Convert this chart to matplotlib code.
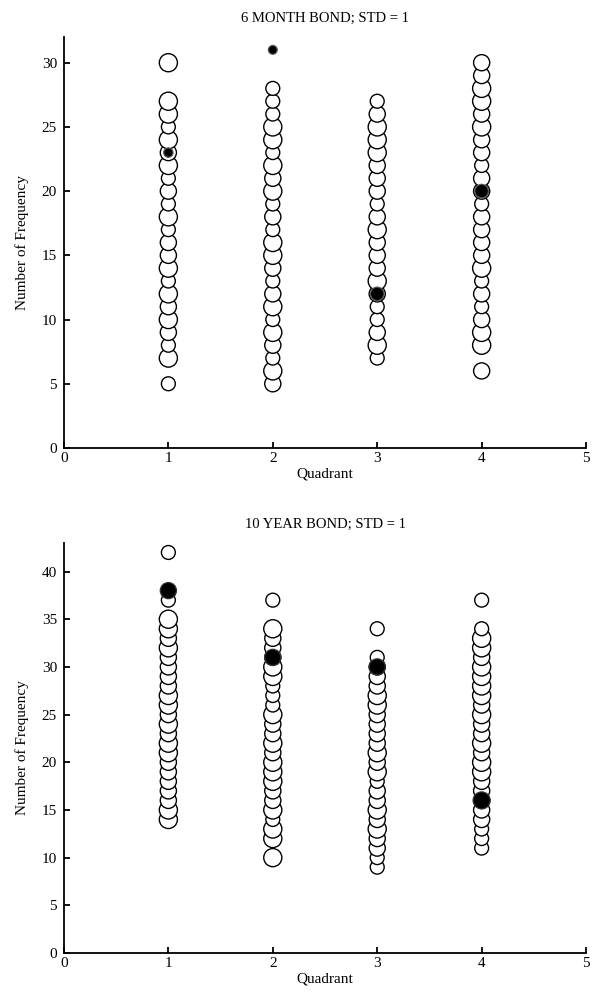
import numpy as np
import matplotlib
matplotlib.use('Agg')
import matplotlib.pyplot as plt

plt.rc('font', family='Liberation Serif', size=11)
plt.rc('axes', linewidth=1.3)

# ---- 6 month bond (top) : frequency values and relative bubble size (1..3)
q1_6m_vals = [5, 7, 8, 9, 10, 11, 12, 13, 14, 15, 16, 17, 18, 19, 20, 21, 22, 23, 24, 25, 26, 27, 30]
q1_6m_size = [1, 3, 1, 2, 3, 2, 3, 1, 3, 2, 2, 1, 3, 1, 2, 1, 3, 2, 3, 1, 3, 3, 3]
q2_6m_vals = [5, 6, 7, 8, 9, 10, 11, 12, 13, 14, 15, 16, 17, 18, 19, 20, 21, 22, 23, 24, 25, 26, 27, 28]
q2_6m_size = [2, 3, 1, 2, 3, 1, 3, 2, 1, 2, 3, 3, 1, 2, 1, 3, 2, 3, 1, 3, 3, 1, 1, 1]
q3_6m_vals = [7, 8, 9, 10, 11, 12, 13, 14, 15, 16, 17, 18, 19, 20, 21, 22, 23, 24, 25, 26, 27]
q3_6m_size = [1, 3, 2, 1, 1, 2, 3, 2, 2, 2, 3, 2, 1, 2, 2, 2, 3, 3, 3, 2, 1]
q4_6m_vals = [6, 8, 9, 10, 11, 12, 13, 14, 15, 16, 17, 18, 19, 20, 21, 22, 23, 24, 25, 26, 27, 28, 29, 30]
q4_6m_size = [2, 3, 3, 2, 1, 2, 1, 3, 2, 2, 2, 2, 1, 2, 2, 1, 2, 2, 3, 2, 3, 3, 2, 2]
cur_6m_quad = [1, 2, 3, 4]
cur_6m_vals = [23, 31, 12, 20]
cur_6m_size = [45, 40, 95, 95]

# ---- 10 year bond (bottom)
q1_10y_vals = [14, 15, 16, 17, 18, 19, 20, 21, 22, 23, 24, 25, 26, 27, 28, 29, 30, 31, 32, 33, 34, 35, 37, 42]
q1_10y_size = [3, 3, 2, 2, 2, 2, 2, 3, 3, 2, 3, 2, 3, 3, 2, 2, 2, 2, 3, 2, 3, 3, 1, 1]
q2_10y_vals = [10, 12, 13, 14, 15, 16, 17, 18, 19, 20, 21, 22, 23, 24, 25, 26, 27, 28, 29, 30, 31, 32, 33, 34, 37]
q2_10y_size = [3, 3, 3, 1, 3, 2, 2, 3, 3, 3, 2, 3, 2, 2, 3, 1, 1, 1, 3, 3, 2, 2, 2, 3, 1]
q3_10y_vals = [9, 10, 11, 12, 13, 14, 15, 16, 17, 18, 19, 20, 21, 22, 23, 24, 25, 26, 27, 28, 29, 30, 31, 34]
q3_10y_size = [1, 1, 2, 2, 3, 2, 3, 2, 2, 1, 3, 2, 3, 2, 2, 2, 2, 3, 3, 2, 2, 2, 1, 1]
q4_10y_vals = [11, 12, 13, 14, 15, 16, 17, 18, 19, 20, 21, 22, 23, 24, 25, 26, 27, 28, 29, 30, 31, 32, 33, 34, 37]
q4_10y_size = [1, 1, 1, 2, 2, 2, 2, 2, 3, 3, 2, 3, 2, 2, 3, 2, 3, 3, 3, 3, 2, 3, 3, 1, 1]
cur_10y_quad = [1, 2, 3, 4]
cur_10y_vals = [38, 31, 30, 16]
cur_10y_size = [135, 135, 135, 150]


def bubble_col(ax, q, vals, size):
    s = 65 + 35 * np.array(size)
    ax.scatter(np.full(len(vals), q), vals, s=s, facecolors='white',
               edgecolors='black', linewidths=1.0, zorder=2)


def style_axes(ax, ymax, yticks, title):
    ax.set_xlim(0, 5)
    ax.set_ylim(0, ymax)
    ax.set_xticks(range(6))
    ax.set_yticks(yticks)
    ax.spines['top'].set_visible(False)
    ax.spines['right'].set_visible(False)
    ax.tick_params(direction='in', length=4, width=1.3)
    ax.tick_params(axis='y', pad=5)
    ax.tick_params(axis='x', pad=3)
    ax.set_xlabel('Quadrant', labelpad=2)
    ax.set_ylabel('Number of Frequency', labelpad=9)
    ax.set_title(title, fontsize=10.5, pad=11)


fig = plt.figure(figsize=(5.92, 10.06), dpi=100)
ax1 = fig.add_axes([0.108, 0.5547, 0.882, 0.4085])
ax2 = fig.add_axes([0.108, 0.0527, 0.882, 0.4076])

top_cols = [(q1_6m_vals, q1_6m_size), (q2_6m_vals, q2_6m_size),
            (q3_6m_vals, q3_6m_size), (q4_6m_vals, q4_6m_size)]
for i, (v, s) in enumerate(top_cols):
    bubble_col(ax1, i + 1, v, s)
ax1.scatter(cur_6m_quad, cur_6m_vals, s=cur_6m_size, facecolors='black',
            edgecolors='#555555', linewidths=0.9, zorder=3)
style_axes(ax1, 32, range(0, 31, 5), '6 MONTH BOND; STD = 1')

bot_cols = [(q1_10y_vals, q1_10y_size), (q2_10y_vals, q2_10y_size),
            (q3_10y_vals, q3_10y_size), (q4_10y_vals, q4_10y_size)]
for i, (v, s) in enumerate(bot_cols):
    bubble_col(ax2, i + 1, v, s)
ax2.scatter(cur_10y_quad, cur_10y_vals, s=cur_10y_size, facecolors='black',
            edgecolors='#333333', linewidths=0.9, zorder=3)
style_axes(ax2, 43, range(0, 41, 5), '10 YEAR BOND; STD = 1')

fig.savefig('out.png', dpi=100)
